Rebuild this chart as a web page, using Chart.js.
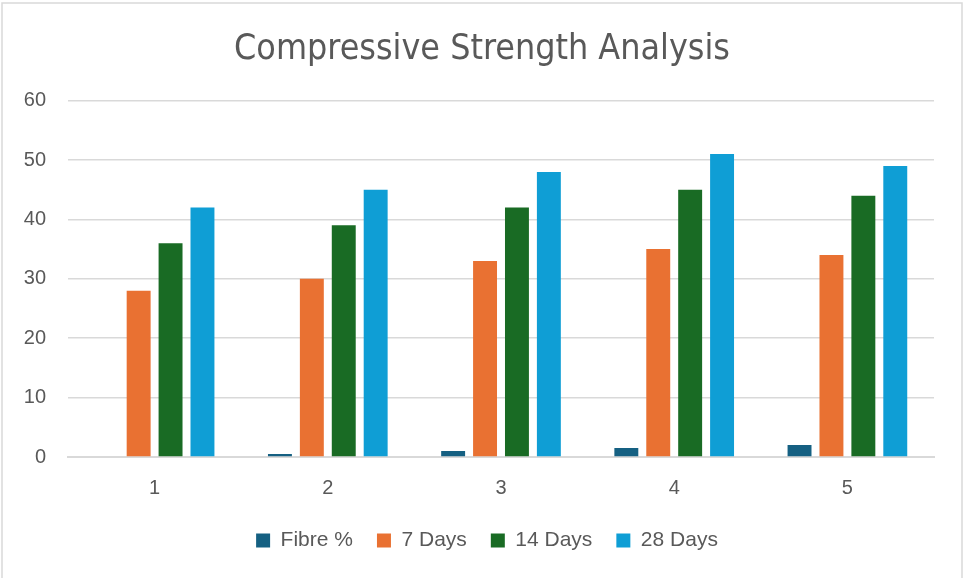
<!DOCTYPE html>
<html>
<head>
<meta charset="utf-8">
<script src="https://cdn.jsdelivr.net/npm/chart.js@4.4.1/dist/chart.umd.min.js"></script>
<style>
	html, body { margin: 0; padding: 0; background: #ffffff; }
	#wrap { width: 964px; height: 578px; position: relative; }
</style>
</head>
<body>
<div id="wrap"><canvas id="chart" width="964" height="578"></canvas></div>
<script>
const categorie = ['1', '2', '3', '4', '5'];
const fibre = [0, 0.5, 1, 1.5, 2];
const giorni7 = [28, 30, 33, 35, 34];
const giorni14 = [36, 39, 42, 45, 44];
const giorni28 = [42, 45, 48, 51, 49];
const tickY = [0, 10, 20, 30, 40, 50, 60];

const grigioTesto = '#595959';
const fontBase = "'Liberation Sans', Roboto, sans-serif";

// bordo sottile attorno all'area del grafico
const bordoPlugin = {
	id: 'bordo',
	afterLayout(chart) {
		// titolo e legenda nell'originale sono centrati un po' piu' a destra
		if (chart.legend) {
			chart.legend.left += 20;
			chart.legend.right += 20;
		}
		if (chart.titleBlock) {
			chart.titleBlock.left += 15;
			chart.titleBlock.right += 15;
		}
	},
	beforeDraw(chart) {
		const ctx = chart.ctx;
		ctx.save();
		ctx.fillStyle = '#ffffff';
		ctx.fillRect(0, 0, chart.width, chart.height);
		ctx.strokeStyle = '#d9d9d9';
		ctx.lineWidth = 1.5;
		ctx.beginPath();
		ctx.moveTo(2, chart.height);
		ctx.lineTo(2, 3);
		ctx.lineTo(962, 3);
		ctx.lineTo(962, chart.height);
		ctx.stroke();
		ctx.restore();
	}
};

const ctx = document.getElementById('chart').getContext('2d');
new Chart(ctx, {
	type: 'bar',
	data: {
		labels: categorie,
		datasets: [
			{ label: 'Fibre %', data: fibre, backgroundColor: '#156082' },
			{ label: '7 Days', data: giorni7, backgroundColor: '#E97132' },
			{ label: '14 Days', data: giorni14, backgroundColor: '#196B24' },
			{ label: '28 Days', data: giorni28, backgroundColor: '#0F9ED5' }
		]
	},
	options: {
		responsive: false,
		animation: false,
		categoryPercentage: 0.737,
		barPercentage: 0.75,
		layout: { padding: { top: 0, right: 30, bottom: 17, left: 0 } },
		plugins: {
			title: {
				display: true,
				text: 'Compressive Strength Analysis',
				color: grigioTesto,
				font: { family: "'Liberation Sans Narrow', 'DejaVu Sans Condensed', sans-serif", size: 35.5, weight: 'normal' },
				padding: { top: 28, bottom: 30 }
			},
			legend: {
				position: 'bottom',
				labels: {
					color: grigioTesto,
					font: { family: fontBase, size: 21 },
					boxWidth: 14,
					boxHeight: 14,
					padding: 24
				}
			},
			tooltip: { enabled: false }
		},
		scales: {
			x: {
				afterFit(scale) {
					scale.height = 49;
				},
				grid: { display: false, drawTicks: false },
				border: { color: '#d9d9d9', width: 2 },
				ticks: { color: grigioTesto, font: { family: fontBase, size: 20 }, padding: 19 }
			},
			y: {
				min: 0,
				max: 60,
				afterBuildTicks(scale) {
					scale.ticks = tickY.map((v) => ({ value: v }));
				},
				afterFit(scale) {
					scale.width = 68;
				},
				grid: { color: '#d9d9d9', lineWidth: 1.5, drawTicks: false },
				border: { display: false },
				ticks: { color: grigioTesto, font: { family: fontBase, size: 20 }, padding: 22 }
			}
		}
	},
	plugins: [bordoPlugin]
});
</script>
</body>
</html>
